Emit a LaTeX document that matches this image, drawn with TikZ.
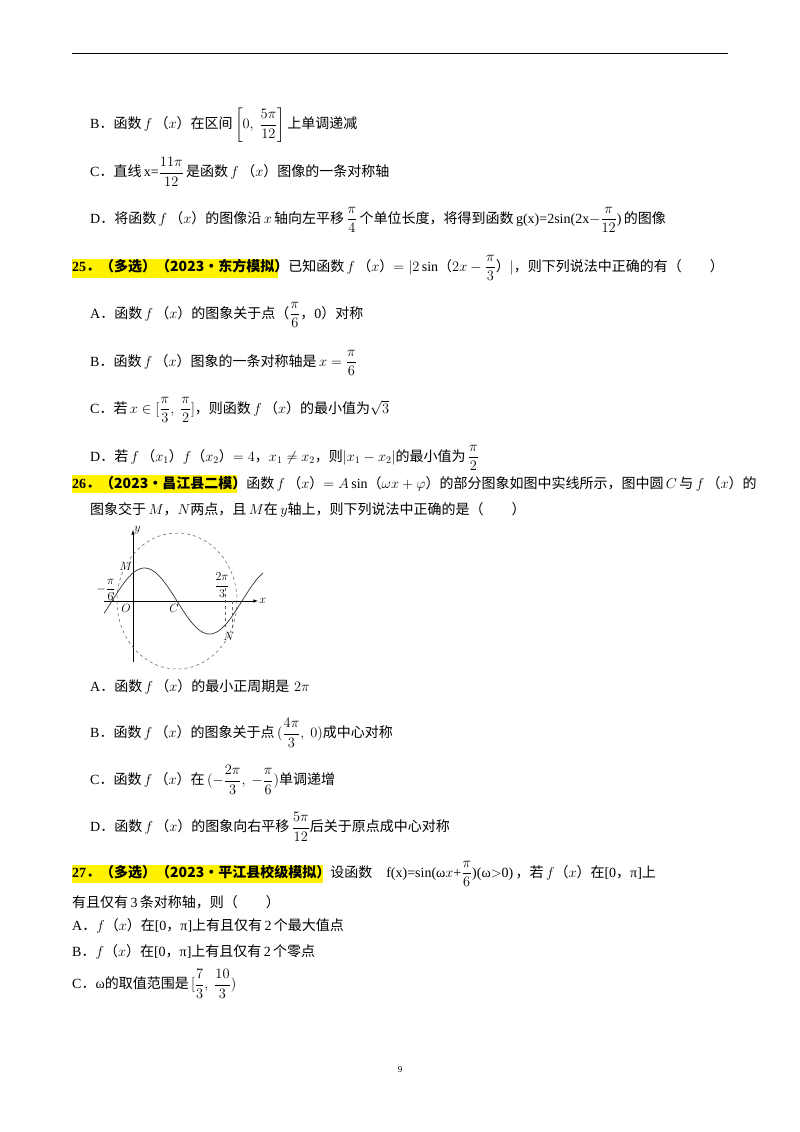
\documentclass[tikz,border=0pt]{standalone}
\usepackage{amsmath}
\usepackage{fontspec}
\setmainfont{Liberation Serif}
\newfontfamily\cjk{Noto Sans CJK SC}
\newcommand{\dd}{{\cjk ．}}
\begin{document}
\begin{tikzpicture}[x=1pt,y=-1pt,
  t/.style={anchor=west,inner sep=0pt,font=\fontsize{14}{16}\selectfont},
  g/.style={font=\fontsize{12}{13}\selectfont,inner sep=0pt},
  dsh/.style={dashed,line width=0.5pt,gray!70!black}]
\useasboundingbox (0,0) rectangle (800,1132);
\fill[white] (0,0) rectangle (800,1132);
\draw[line width=0.8pt] (72,53) -- (728,53);
% B C D
\node[t] (b1) at (90,125) {B\dd{\cjk 函数}\,$f$\,{\cjk （}$x${\cjk ）在区间}\,$\left[0,\ \dfrac{5\pi}{12}\right]$\,{\cjk 上单调递减}};
\node[t] (c1) at (90,172) {C\dd{\cjk 直线}\,x=$\dfrac{11\pi}{12}$\,{\cjk 是函数}\,$f$\,{\cjk （}$x${\cjk ）图像的一条对称轴}};
\node[t] (d1) at (90,220) {D\dd{\cjk 将函数}\,$f$\,{\cjk （}$x${\cjk ）的图像沿}\,$x$\,{\cjk 轴向左平移}\,$\dfrac{\pi}{4}$\,{\cjk 个单位长度，将得到函数}\,g(x)=2sin(2x$-\dfrac{\pi}{12}$)\,{\cjk 的图像}};
% 25
\fill[yellow] (72,259) rectangle (278,278);
\node[t] (q25) at (72,268) {\textbf{25\dd{\cjk （多选）（2023•东方模拟）}}{\cjk 已知函数}\,$f$\,{\cjk （}$x${\cjk ）}$=|2\sin${\cjk （}$2x-\dfrac{\pi}{3}${\cjk ）}$|${\cjk ，则下列说法中正确的有（\quad\quad ）}};
\node[t] (a2) at (90,315) {A\dd{\cjk 函数}\,$f$\,{\cjk （}$x${\cjk ）的图象关于点（}$\dfrac{\pi}{6}${\cjk ，}0{\cjk ）对称}};
\node[t] (b2) at (90,363) {B\dd{\cjk 函数}\,$f$\,{\cjk （}$x${\cjk ）图象的一条对称轴是}\,$x=\dfrac{\pi}{6}$};
\node[t] (c2) at (90,410) {C\dd{\cjk 若}\,$x\in[\dfrac{\pi}{3},\ \dfrac{\pi}{2}]${\cjk ，则函数}\,$f$\,{\cjk （}$x${\cjk ）的最小值为}$\sqrt{3}$};
\node[t] (d2) at (90,458) {D\dd{\cjk 若}\,$f$\,{\cjk （}$x_1${\cjk ）}$f${\cjk （}$x_2${\cjk ）}$=4${\cjk ，}$x_1\neq x_2${\cjk ，则}$|x_1-x_2|${\cjk 的最小值为}\,$\dfrac{\pi}{2}$};
% 26
\fill[yellow] (72,475) rectangle (237,493);
\node[t] (q26) at (72,484) {\textbf{26\dd{\cjk （2023•昌江县二模）}}{\cjk 函数}\,$f$\,{\cjk （}$x${\cjk ）}$=A\sin${\cjk （}$\omega x+\varphi${\cjk ）的部分图象如图中实线所示，图中圆}\,$C$\,{\cjk 与}\,$f$\,{\cjk （}$x${\cjk ）的}};
\node[t] (q26b) at (90,510) {{\cjk 图象交于}\,$M${\cjk ，}$N${\cjk 两点，且}\,$M${\cjk 在}\,$y${\cjk 轴上，则下列说法中正确的是（\quad\quad ）}};
% graph
\draw[-latex,line width=0.6pt] (104,601) -- (258,601) node[right,g,inner sep=1pt] (xl) {$x$};
\draw[-latex,line width=0.6pt] (133,662) -- (133,530) node[right,g,inner sep=1pt] (yl) {$y$};
\draw[dsh] (177,601) ellipse [x radius=60,y radius=68];
\draw[line width=0.7pt,gray!40!black,domain=104:263,samples=100,smooth] plot (\x,{601-33*sin((\x-112)/65*180)});
\draw[dsh] (113,601) -- (113,590);
\draw[dsh] (225,588) -- (225,630);
\draw[dsh] (232,601) -- (232,630);
\node[g] (mL) at (126,566) {$M$};
\node[g] (oL) at (126,608) {$O$};
\node[g] (cL) at (174,608) {$C$};
\node[g] (nL) at (229,636) {$N$};
\node[g] (p6) at (106,590) {$-\dfrac{\pi}{6}$};
\node[g] (p23) at (222,585) {$\dfrac{2\pi}{3}$};
\node[t] (a3) at (90,687) {A\dd{\cjk 函数}\,$f$\,{\cjk （}$x${\cjk ）的最小正周期是}\,\,$2\pi$};
\node[t] (b3) at (90,733) {B\dd{\cjk 函数}\,$f$\,{\cjk （}$x${\cjk ）的图象关于点}\,$(\dfrac{4\pi}{3},\ 0)${\cjk 成中心对称}};
\node[t] (c3) at (90,780) {C\dd{\cjk 函数}\,$f$\,{\cjk （}$x${\cjk ）在}\,$(-\dfrac{2\pi}{3},\ -\dfrac{\pi}{6})${\cjk 单调递增}};
\node[t] (d3) at (90,827) {D\dd{\cjk 函数}\,$f$\,{\cjk （}$x${\cjk ）的图象向右平移}\,$\dfrac{5\pi}{12}${\cjk 后关于原点成中心对称}};
% 27
\fill[yellow] (72,865) rectangle (323,883);
\node[t] (q27) at (72,874) {\textbf{27\dd{\cjk （多选）（2023•平江县校级模拟）}}{\cjk 设函数}\quad f(x)=sin(ω$x$+$\dfrac{\pi}{6}$)(ω$>$0)\,{\cjk ，若}\,$f${\cjk （}$x${\cjk ）在}[0{\cjk ，}π]{\cjk 上}};
\node[t] (q27b) at (72,902) {{\cjk 有且仅有}\,3\,{\cjk 条对称轴，则（\quad\quad ）}};
\node[t] (a4) at (72,926) {A\dd$f${\cjk （}$x${\cjk ）在}[0{\cjk ，}π]{\cjk 上有且仅有}\,2\,{\cjk 个最大值点}};
\node[t] (b4) at (72,952) {B\dd$f${\cjk （}$x${\cjk ）在}[0{\cjk ，}π]{\cjk 上有且仅有}\,2\,{\cjk 个零点}};
\node[t] (c4) at (72,984) {C\dd ω{\cjk 的取值范围是}\,$[\dfrac{7}{3},\ \dfrac{10}{3})$};
\node[font=\small] (pg) at (400,1070) {9};
\end{tikzpicture}
\end{document}
